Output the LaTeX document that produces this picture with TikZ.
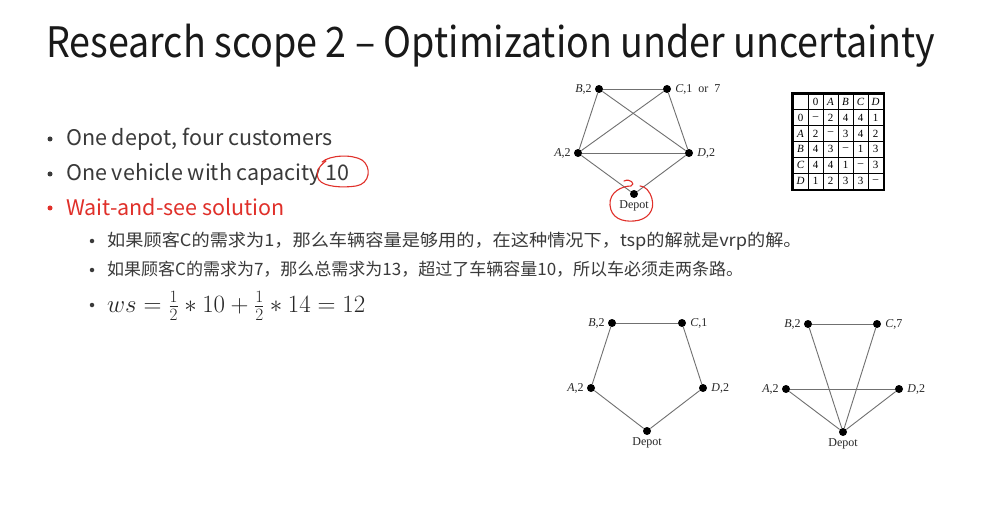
\documentclass[tikz,border=0pt]{standalone}
\usepackage{fontspec}
\setmainfont{Noto Sans CJK SC}
\newfontfamily\tnr{Liberation Serif}
\definecolor{txt}{HTML}{3A3A3A}
\definecolor{redt}{HTML}{E0302A}
\definecolor{edgec}{HTML}{707070}
\begin{document}
\begin{tikzpicture}[x=1pt,y=-1pt,
  dot/.style={circle,fill=black,inner sep=0pt,minimum size=8pt},
  bdot/.style={circle,fill=txt,inner sep=0pt,minimum size=#1},
  bdot/.default=5pt,
  edge/.style={draw=edgec,line width=0.9pt},
  lab/.style={font=\tnr\fontsize{12}{14}\selectfont,inner sep=1pt,text=black!85},
  bul/.style={anchor=base west,font=\fontsize{21.5}{24}\selectfont,text=txt,inner sep=0pt},
  sub/.style={anchor=base west,font=\fontsize{17}{20}\selectfont,text=txt,inner sep=0pt},
  handred/.style={draw=redt,line width=1.1pt,line cap=round,line join=round},
  cell/.style={font=\tnr\fontsize{11}{13}\selectfont,inner sep=0pt,anchor=center}]
\fill[white] (0,0) rectangle (1004,513);
\useasboundingbox (0,0) rectangle (1004,513);

% Title
\node[anchor=base west,inner sep=0pt,text=black!90,font=\fontsize{42}{48}\selectfont] (title) at (46,58) {\scalebox{0.897}[1]{Research scope 2 – Optimization under uncertainty}};

% Bullets
\node[bdot] (b1d) at (50,139) {};
\node[bul] (b1) at (66,146) {One depot, four customers};
\node[bdot] (b2d) at (50,174) {};
\node[bul] (b2) at (66,181) {One vehicle with capacity 10};
\node[bdot,fill=redt] (b3d) at (50,208) {};
\node[bul,text=redt] (b3) at (66,215) {Wait-and-see solution};

\node[bdot=4.5pt] (s1d) at (92,241) {};
\node[sub] (s1) at (107,247) {\scalebox{1.07}[1]{如果顾客C的需求为1，那么车辆容量是够用的，在这种情况下，tsp的解就是vrp的解。}};
\node[bdot=4.5pt] (s2d) at (92,270) {};
\node[sub] (s2) at (107,276) {如果顾客C的需求为7，那么总需求为13，超过了车辆容量10，所以车必须走两条路。};
\node[bdot=4.5pt] (s3d) at (92,305) {};
\node[anchor=base west,inner sep=0pt,text=black!85,font=\fontsize{23.5}{26}\selectfont] (s3) at (107,312) {$ws=\frac{1}{2}\ast 10+\frac{1}{2}\ast 14=12$};

% red hand circle around 10
\draw[handred] (322,162) .. controls (330,155) and (352,154) .. (362,160)
  .. controls (372,167) and (370,184) .. (356,186)
  .. controls (343,188) and (324,187) .. (319,180)
  .. controls (315,173) and (318,167) .. (326,161);

% Top graph
\node[dot] (B) at (599,89) {};
\node[dot] (C) at (667,89) {};
\node[dot] (A) at (578,153) {};
\node[dot] (D) at (689,153) {};
\node[dot] (O) at (634,194) {};
\node[lab,anchor=east] (Bl) at ([xshift=-2pt]B.west) {\itshape B\upshape,2};
\node[lab,anchor=west] (Cl) at ([xshift=3pt]C.east) {\itshape C\upshape,1\ \ or\ \ 7};
\node[lab,anchor=east] (Al) at ([xshift=-2pt]A.west) {\itshape A\upshape,2};
\node[lab,anchor=west] (Dl) at ([xshift=3pt]D.east) {\itshape D\upshape,2};
\node[lab,anchor=north] (Ol) at ([yshift=-1pt]O.south) {Depot};
\draw[edge] (B) -- (C);
\draw[edge] (B) -- (A);
\draw[edge] (B) -- (D);
\draw[edge] (C) -- (A);
\draw[edge] (C) -- (D);
\draw[edge] (A) -- (D);
\draw[edge] (A) -- (O);
\draw[edge] (D) -- (O);
% red circle around Depot
\draw[handred] (624,181) .. controls (630,178) and (636,184) .. (631,186)
  .. controls (622,186) and (609,192) .. (610,205)
  .. controls (611,218) and (622,222) .. (634,221)
  .. controls (648,220) and (655,210) .. (652,199)
  .. controls (650,191) and (645,186) .. (640,186);

% Distance table
\def\cw{15}\def\rh{15.8}
\draw[black,line width=0.6pt] (793,94) rectangle (883,189);
\draw[black,line width=1.2pt] (792,93) rectangle (884,190);
\foreach \i in {1,...,5} {
  \draw[black,line width=0.7pt] ({793+\i*\cw},94) -- ({793+\i*\cw},189);
  \draw[black,line width=0.7pt] (793,{94+\i*\rh}) -- (883,{94+\i*\rh});
}
\foreach \t [count=\c from 1] in {0,\itshape A,\itshape B,\itshape C,\itshape D} {
  \node[cell] (h\c) at ({793+\cw*(\c+0.5)},{94+\rh*0.5}) {\t};
}
\foreach \t [count=\r from 1] in {0,\itshape A,\itshape B,\itshape C,\itshape D} {
  \node[cell] (r\r) at ({793+\cw*0.5},{94+\rh*(\r+0.5)}) {\t};
}
\foreach \row [count=\r from 1] in {{–,2,4,4,1},{2,–,3,4,2},{4,3,–,1,3},{4,4,1,–,3},{1,2,3,3,–}} {
  \foreach \v [count=\c from 1] in \row {
    \node[cell] (t\r\c) at ({793+\cw*(\c+0.5)},{94+\rh*(\r+0.5)}) {\v};
  }
}

% Bottom left graph
\node[dot] (B1) at (612,323) {};
\node[dot] (C1) at (682,323) {};
\node[dot] (A1) at (591,388) {};
\node[dot] (D1) at (703,388) {};
\node[dot] (O1) at (647,431) {};
\node[lab,anchor=east] (B1l) at ([xshift=-2pt]B1.west) {\itshape B\upshape,2};
\node[lab,anchor=west] (C1l) at ([xshift=3pt]C1.east) {\itshape C\upshape,1};
\node[lab,anchor=east] (A1l) at ([xshift=-2pt]A1.west) {\itshape A\upshape,2};
\node[lab,anchor=west] (D1l) at ([xshift=3pt]D1.east) {\itshape D\upshape,2};
\node[lab,anchor=north] (O1l) at ([yshift=-1pt]O1.south) {Depot};
\draw[edge] (B1) -- (C1);
\draw[edge] (B1) -- (A1);
\draw[edge] (C1) -- (D1);
\draw[edge] (A1) -- (O1);
\draw[edge] (D1) -- (O1);

% Bottom right graph
\node[dot] (B2) at (808,324) {};
\node[dot] (C2) at (877,324) {};
\node[dot] (A2) at (786,389) {};
\node[dot] (D2) at (899,389) {};
\node[dot] (O2) at (843,432) {};
\node[lab,anchor=east] (B2l) at ([xshift=-2pt]B2.west) {\itshape B\upshape,2};
\node[lab,anchor=west] (C2l) at ([xshift=3pt]C2.east) {\itshape C\upshape,7};
\node[lab,anchor=east] (A2l) at ([xshift=-2pt]A2.west) {\itshape A\upshape,2};
\node[lab,anchor=west] (D2l) at ([xshift=3pt]D2.east) {\itshape D\upshape,2};
\node[lab,anchor=north] (O2l) at ([yshift=-1pt]O2.south) {Depot};
\draw[edge] (B2) -- (C2);
\draw[edge] (B2) -- (O2);
\draw[edge] (C2) -- (O2);
\draw[edge] (A2) -- (D2);
\draw[edge] (A2) -- (O2);
\draw[edge] (D2) -- (O2);
\end{tikzpicture}
\end{document}
